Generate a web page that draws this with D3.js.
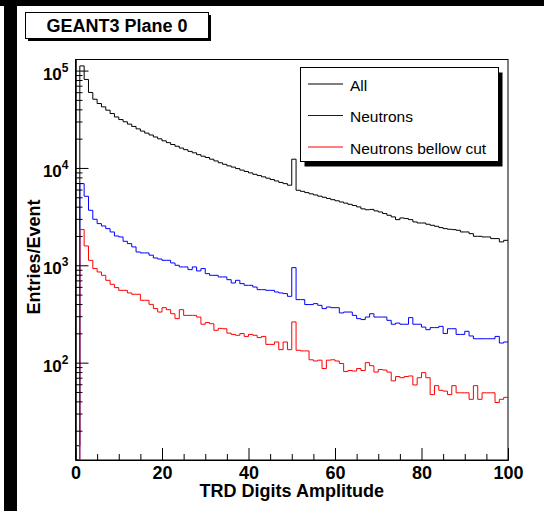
<!DOCTYPE html>
<html>
<head>
<meta charset="utf-8">
<script src="https://cdn.jsdelivr.net/npm/d3@7"></script>
<style>
  body { margin: 0; background: #fff; }
  svg { display: block; font-family: "Liberation Sans", Arial, Helvetica, sans-serif; }
</style>
</head>
<body>
<script>
// bins of width 1 from 0 to 100
const binEdges = d3.range(0, 101);

// entries per event, one value per bin
const allCounts = [
  14, 111700, 81100, 59600, 50800, 45900, 42400, 39200, 36200, 33400,
  31400, 29800, 28200, 26700, 25200, 23900, 22800, 21800, 20800, 19900,
  19000, 18200, 17400, 16700, 16000, 15400, 14800, 14300, 13700, 13200,
  12800, 12300, 11800, 11300, 10900, 10500, 10200, 9850, 9500, 9200,
  8900, 8600, 8350, 8100, 7850, 7600, 7350, 7100, 6900, 6650,
  12300, 5900, 5750, 5580, 5420, 5280, 5130, 5000, 4860, 4720,
  4600, 4470, 4350, 4230, 4110, 3980, 3800, 3720, 3750, 3620,
  3530, 3400, 3265, 3140, 2945, 3065, 3020, 2945, 2790, 2720,
  2720, 2640, 2575, 2515, 2440, 2380, 2345, 2325, 2290, 2200,
  2200, 2115, 1985, 1985, 1955, 1955, 1880, 1880, 1740, 1805
];

const neutronCounts = [
  0, 6900, 5120, 3675, 2970, 2680, 2535, 2380, 2200, 2000,
  1955, 1765, 1670, 1545, 1370, 1340, 1340, 1270, 1190, 1160,
  1125, 1125, 1057, 1000, 962, 962, 903, 962, 875, 925,
  821, 789, 789, 759, 759, 712, 658, 701, 648, 623,
  623, 598, 562, 562, 553, 553, 532, 520, 512, 480,
  946, 444, 444, 395, 395, 404, 388, 359, 373, 367,
  367, 324, 331, 331, 306, 283, 277, 294, 318, 294,
  294, 294, 272, 248, 255, 248, 248, 290, 248, 248,
  232, 218, 229, 229, 236, 199, 223, 223, 195, 195,
  210, 188, 176, 176, 176, 176, 176, 186, 159, 163
];

const belowCutCounts = [
  0, 2330, 1580, 1125, 925, 854, 789, 701, 638, 590,
  553, 553, 520, 504, 504, 437, 437, 397, 359, 331,
  367, 350, 318, 283, 350, 306, 306, 306, 294, 248,
  258, 251, 215, 225, 223, 201, 195, 191, 199, 186,
  195, 191, 181, 186, 154, 154, 163, 136, 163, 136,
  262, 134, 132, 132, 107, 104, 106, 87, 106, 107,
  104, 98, 81, 83, 82, 87, 83, 100, 93, 80,
  85, 84, 80, 65, 72, 70, 72, 73, 59, 70,
  79, 70, 47, 58, 52, 51, 47, 58, 49, 49,
  49, 42, 58, 42, 49, 49, 49, 39, 42, 44
];

const seriesNames = ['All', 'Neutrons', 'Neutrons bellow cut'];
const seriesColors = ['#000000', '#0000ff', '#ff0000'];
const xTickValues = [0, 20, 40, 60, 80, 100];
const yTickValues = [1e2, 1e3, 1e4, 1e5];

const width = 544, height = 511;
const frame = { left: 75.5, right: 508, top: 59.5, bottom: 460 };
const yMin = 10, yMax = 1.3e5;

const svg = d3.select('body')
  .append('svg')
  .attr('width', width)
  .attr('height', height);

// black canvas edges
svg.append('rect').attr('x', 0).attr('y', 0).attr('width', width).attr('height', 6).attr('fill', '#000');
svg.append('rect').attr('x', 4).attr('y', 0).attr('width', 13).attr('height', height).attr('fill', '#000');

// scales
const x = d3.scaleLinear().domain([0, 100]).range([frame.left, frame.right]);
const y = d3.scaleLog().domain([yMin, yMax]).range([frame.bottom, frame.top]);

// frame box
svg.append('rect')
  .attr('x', frame.left).attr('y', frame.top)
  .attr('width', frame.right - frame.left)
  .attr('height', frame.bottom - frame.top)
  .attr('fill', 'none')
  .attr('stroke', '#000');

// histograms drawn as steps
const stepLine = d3.line()
  .x(d => x(d[0]))
  .y(d => y(Math.max(d[1], yMin)))
  .curve(d3.curveStepAfter);

svg.append('clipPath').attr('id', 'plotclip')
  .append('rect')
  .attr('x', frame.left).attr('y', frame.top)
  .attr('width', frame.right - frame.left)
  .attr('height', frame.bottom - frame.top);

[allCounts, neutronCounts, belowCutCounts].forEach((counts, k) => {
  const pts = [[binEdges[0], 0]]
    .concat(counts.map((c, i) => [binEdges[i], c]))
    .concat([[binEdges[100], counts[99]]]);
  svg.append('path')
    .datum(pts)
    .attr('clip-path', 'url(#plotclip)')
    .attr('fill', 'none')
    .attr('stroke', seriesColors[k])
    .attr('stroke-width', 1)
    .attr('d', stepLine);
});

// x axis, ticks point into the frame
const xAxis = svg.append('g')
  .attr('transform', `translate(0, ${frame.bottom})`)
  .call(d3.axisBottom(x).tickValues(xTickValues).tickSize(-12).tickSizeOuter(0).tickPadding(6));
xAxis.append('g')
  .call(d3.axisBottom(x).tickValues(d3.range(0, 101, 5).filter(v => v % 20)).tickSize(-6).tickSizeOuter(0).tickFormat(''));
xAxis.selectAll('text')
  .attr('fill', '#000')
  .style('font-size', '18px')
  .style('font-weight', 'bold');

// y axis, log, with minor ticks
const minorY = y.ticks().filter(v => !yTickValues.includes(v) && v > yMin);
const yAxis = svg.append('g')
  .attr('transform', `translate(${frame.left}, 0)`)
  .call(d3.axisLeft(y).tickValues(yTickValues).tickSize(-13).tickSizeOuter(0).tickPadding(7).tickFormat(''));
yAxis.append('g')
  .call(d3.axisLeft(y).tickValues(minorY).tickSize(-7).tickSizeOuter(0).tickFormat(''));
yAxis.selectAll('.tick line').attr('stroke', '#000');
xAxis.selectAll('.tick line').attr('stroke', '#000');

// power-of-ten labels
yTickValues.forEach(v => {
  const t = yAxis.append('text')
    .attr('x', -7)
    .attr('y', y(v) + 9)
    .attr('text-anchor', 'end')
    .attr('fill', '#000')
    .style('font-weight', 'bold');
  t.append('tspan').style('font-size', '17px').text('10');
  t.append('tspan').style('font-size', '12px').attr('dy', -8).text(Math.round(Math.log10(v)));
});

// axis titles
svg.append('text')
  .attr('x', (frame.left + frame.right) / 2)
  .attr('y', 497)
  .attr('text-anchor', 'middle')
  .style('font-size', '18px')
  .style('font-weight', 'bold')
  .text('TRD Digits Amplitude');

svg.append('text')
  .attr('transform', 'translate(40, 257) rotate(-90)')
  .attr('text-anchor', 'middle')
  .style('font-size', '18px')
  .style('font-weight', 'bold')
  .text('Entries/Event');

// title box with shadow
svg.append('rect').attr('x', 28).attr('y', 15).attr('width', 183).attr('height', 26).attr('fill', '#000');
svg.append('rect').attr('x', 25.5).attr('y', 12.5).attr('width', 183).attr('height', 26)
  .attr('fill', '#fff').attr('stroke', '#000');
svg.append('text')
  .attr('x', 117)
  .attr('y', 32)
  .attr('text-anchor', 'middle')
  .style('font-size', '18px')
  .style('font-weight', 'bold')
  .text('GEANT3 Plane 0');

// legend box with shadow
const legend = { x: 300.5, y: 67.5, w: 198, h: 94 };
svg.append('rect').attr('x', legend.x + 4).attr('y', legend.y + 5)
  .attr('width', legend.w).attr('height', legend.h).attr('fill', '#000');
svg.append('rect').attr('x', legend.x).attr('y', legend.y)
  .attr('width', legend.w).attr('height', legend.h)
  .attr('fill', '#fff').attr('stroke', '#000');

const legendRows = [84, 115.5, 147];
seriesNames.forEach((name, i) => {
  svg.append('line')
    .attr('x1', 308).attr('x2', 343)
    .attr('y1', legendRows[i]).attr('y2', legendRows[i])
    .attr('stroke', seriesColors[i]);
  svg.append('text')
    .attr('x', 350)
    .attr('y', legendRows[i] + 6.5)
    .style('font-size', '15.5px')
    .text(name);
});
</script>
</body>
</html>
